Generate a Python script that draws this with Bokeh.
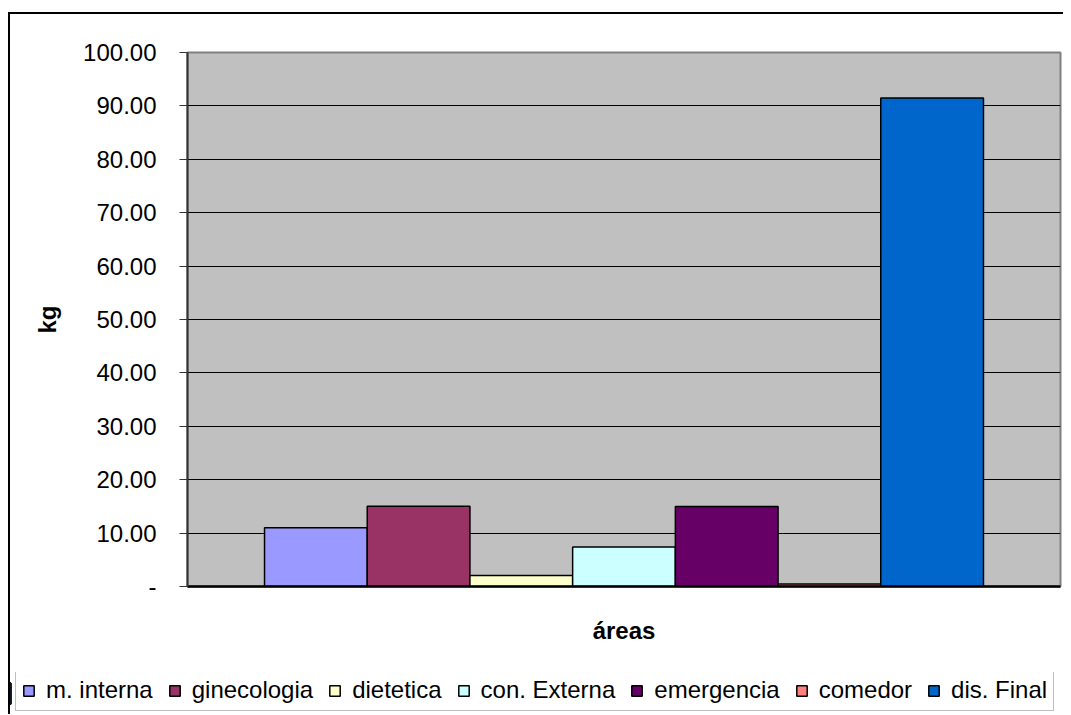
from bokeh.plotting import figure
from bokeh.layouts import column
from bokeh.models import FactorRange, Range1d, FixedTicker, Legend, LegendItem, ColumnDataSource
from bokeh.embed import file_html
from bokeh.resources import INLINE

series = ["m. interna", "ginecologia", "dietetica", "con. Externa", "emergencia", "comedor", "dis. Final"]
values = [11.0, 15.05, 2.05, 7.4, 15.0, 0.45, 91.5]
colors = ["#9999FF", "#993366", "#FFFFCC", "#CCFFFF", "#660066", "#FF8080", "#0066CC"]
y_ticks = [0, 10, 20, 30, 40, 50, 60, 70, 80, 90, 100]
y_tick_labels = ["-", "10.00", "20.00", "30.00", "40.00", "50.00", "60.00", "70.00", "80.00", "90.00", "100.00"]
x_title = "áreas"
y_title = "kg"

FONT = "Liberation Sans"

source = ColumnDataSource(dict(series=series, values=values, colors=colors))

p = figure(
    width=1053, height=658,
    x_range=FactorRange(factors=series, factor_padding=0, range_padding=0.75, range_padding_units="absolute"),
    y_range=Range1d(0, 100),
    output_backend="svg", toolbar_location=None,
    min_border_left=177, min_border_top=38, min_border_bottom=86, min_border_right=3,
    background_fill_color="#C0C0C0", border_fill_color="white",
    outline_line_color="#808080", outline_line_width=2,
)

r = p.vbar(x="series", top="values", bottom=0, width=1.0, source=source,
           fill_color="colors", line_color="black", line_width=1.5)

# grid
p.xgrid.grid_line_color = None
p.ygrid.ticker = FixedTicker(ticks=y_ticks[1:-1])
p.ygrid.grid_line_color = "#000000"
p.ygrid.grid_line_width = 1

# y axis
ya = p.yaxis[0]
ya.ticker = FixedTicker(ticks=y_ticks)
ya.major_label_overrides = {t: l for t, l in zip(y_ticks, y_tick_labels)}
ya.major_label_text_font = FONT
ya.major_label_text_font_size = "24px"
ya.major_label_text_color = "black"
ya.major_tick_out = 8
ya.major_tick_in = 0
ya.minor_tick_line_color = None
ya.major_tick_line_color = "#333333"
ya.axis_line_color = "#333333"
ya.axis_line_width = 2
ya.major_label_standoff = 23
ya.axis_label = y_title
ya.axis_label_text_font = FONT
ya.axis_label_text_font_style = "bold"
ya.axis_label_text_font_size = "24px"
ya.axis_label_text_color = "black"
ya.axis_label_standoff = 19

# x axis
xa = p.xaxis[0]
xa.major_tick_line_color = None
xa.minor_tick_line_color = None
xa.major_label_text_font_size = "0px"
xa.major_label_text_color = None
xa.axis_line_color = "black"
xa.axis_line_width = 2.5
xa.axis_label = x_title
xa.axis_label_text_font = FONT
xa.axis_label_text_font_style = "bold"
xa.axis_label_text_font_size = "24px"
xa.axis_label_text_color = "black"
xa.axis_label_standoff = 24

# legend figure (separate strip below the chart so the legend is not clipped)
pl = figure(
    width=1053, height=42,
    x_range=Range1d(0, 1), y_range=FactorRange(factors=["a"]),
    output_backend="svg", toolbar_location=None,
    min_border=0, border_fill_color="white", background_fill_color="white",
    outline_line_color=None,
)
pl.axis.visible = False
pl.grid.visible = False
for fig in (p, pl):
    if "frame_align" in fig.properties():
        fig.frame_align = False

rl = pl.hbar(y=["a"] * len(series), right=[-5] * len(series), left=[-6] * len(series),
             height=0.5, fill_color=colors, line_color="black", line_width=1.5)

items = [LegendItem(label=s, renderers=[rl], index=i) for i, s in enumerate(series)]
legend = Legend(items=items, orientation="horizontal", location=(5, 3))
legend.label_text_font = FONT
legend.label_text_font_size = "24px"
legend.label_text_color = "black"
legend.glyph_width = 13
legend.glyph_height = 13
legend.label_standoff = 11
legend.spacing = 15
legend.padding = 6
legend.margin = 0
legend.border_line_color = "#808080"
legend.border_line_width = 1.5
legend.background_fill_color = "white"
legend.background_fill_alpha = 1.0
pl.add_layout(legend, "center")

layout = column(p, pl, spacing=0)
layout.styles = {"border-top": "2px solid black", "border-left": "2px solid black",
                 "margin-top": "12px", "margin-left": "8px"}

open("out.html", "w").write(file_html(layout, INLINE))
